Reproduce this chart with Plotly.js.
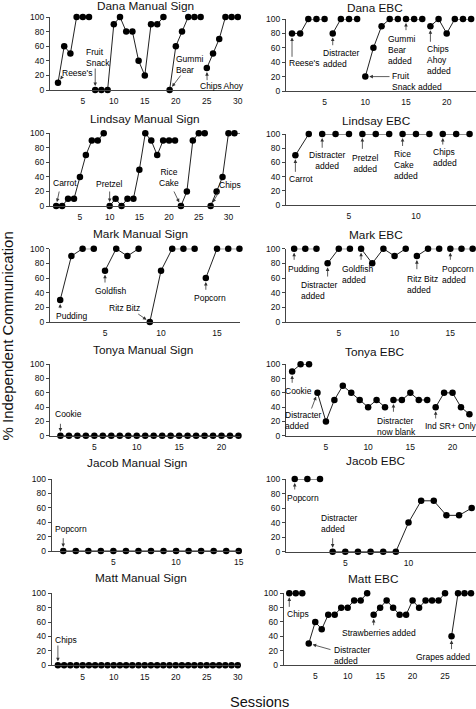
<!DOCTYPE html>
<html>
<head>
<meta charset="utf-8">
<script src="https://cdn.plot.ly/plotly-3.0.1.min.js"></script>
<style>html,body{margin:0;padding:0;background:#fff;}#chart{width:476px;height:709px;}</style>
</head>
<body>
<div id="chart"></div>
<script>
// ---------- DATA (values per phase; sessions numbered consecutively from 1) ----------
const panelTitles = ['Dana Manual Sign','Dana EBC','Lindsay Manual Sign','Lindsay EBC','Mark Manual Sign','Mark EBC',
  'Tonya Manual Sign','Tonya EBC','Jacob Manual Sign','Jacob EBC','Matt Manual Sign','Matt EBC'];

const danaManual = [[10,60,50,100,100,100],[0,0,0,90,100,80,80,40,20,90,90,100],[0,60,80,100,100,100],[30,50,70,100,100,100]];
const danaEBC = [[80,80,100,100,100],[80,100,100,100],[20,60,90,100,100],[100,100,100],[90,100,80,100,100,100]];
const lindsayManual = [[0,0,10,10,40,70,90,90,100],[0,10,0,10,10,50,100,90,70,90,90,90],[0,20,90,100,100],[0,20,40,100,100,100]];
const lindsayEBC = [[70,100],[100,100,100],[100,100,100],[100,100,100],[100,100,100]];
const markManual = [[30,90,100,100],[70,100,90,100],[0,70,100,100,100],[60,100,100,100]];
const markEBC = [[100,100,100],[80,100,100],[100,80,100,90,100],[90,100,100],[100,100,100]];
const tonyaManual = [[0,0,0,0,0,0,0,0,0,0,0,0,0,0,0,0,0,0,0,0,0,0]];
const tonyaEBC = [[90,100,100],[60,20,50,70,60,50,40,50,40],[50,50,60,50,50],[40,60,60,40,30]];
const jacobManual = [[0,0,0,0,0,0,0,0,0,0,0,0,0,0,0]];
const jacobEBC = [[100,100,100],[0,0,0,0,0,0,40,70,70,50,50,60]];
const mattManual = [[0,0,0,0,0,0,0,0,0,0,0,0,0,0,0,0,0,0,0,0,0,0,0,0,0,0,0,0,0,0]];
const mattEBC = [[100,100,100],[30,60,50,70,70,80,80,90,90,100],[70,80,90,80,70,70,90,80,90,90,90,100],[40,100,100,100]];

const panelData = [danaManual,danaEBC,lindsayManual,lindsayEBC,markManual,markEBC,
  tonyaManual,tonyaEBC,jacobManual,jacobEBC,mattManual,mattEBC];

const xTickLabels = [5,10,15,20,25,30];
const yTickLabels = [0,20,40,60,80,100];

// phase labels: [text, session, percent, align] and arrows: [headSession, headPct, tailSession, tailPct]
const phaseLabels = [
  [["Reese's",4.11,22.9],["Fruit<br>Snack",7.42,44.5],["Gummi<br>Bear",22.35,35.2],["Chips Ahoy",27.4,5.5]],
  [["Reese's",2.51,38.5],["Distracter<br>added",7.08,45.8],["Fruit<br>Snack added",16.33,12.5],["Gummi<br>Bear<br>added",14.56,56.9],["Chips<br>Ahoy<br>added",19.0,42.6]],
  [["Carrot",2.53,32],["Pretzel",9.92,30.3],["Rice<br>Cake",19.99,38.9,'center'],["Chips",30.3,28.9]],
  [["Carrot",1.44,36.2],["Distracter<br>added",3.38,62.7,'center'],["Pretzel<br>added",6.27,58.7,'center'],["Rice<br>Cake<br>added",9.25,56.8],["Chips<br>added",12.16,66.6]],
  [["Pudding",1.98,7.8],["Goldfish",5.49,42.7],["Ritz Bitz",6.71,19.1],["Popcorn",14.33,32.7]],
  [["Pudding",1.82,72.3],["Distracter<br>added",3.25,42.5],["Goldfish<br>added",6.69,64.6],["Ritz Bitz<br>added",12.49,51.4],["Popcorn<br>added",15.73,65]],
  [["Cookie",1.93,29.8]],
  [["Cookie",1.77,62.6],["Distracter<br>added",2.34,20.8],["Distracter<br>now blank",13.38,13.2],["Ind SR+ Only",19.76,13.6]],
  [["Popcorn",1.64,30.6]],
  [["Popcorn",1.67,73.3],["Distracter<br>added",4.52,38.5]],
  [["Chips",2.27,35.1]],
  [["Chips",2.29,70.7],["Distracter<br>added",10.74,12.8],["Strawberries added",14.82,44.2],["Grapes added",24.7,11.6]]
];
const phaseArrows = [
  [[1,10,1.75,19],[7,0,7,31.5],[19,0,20.95,21.9],[25,30,25.05,11.4]],
  [[1,80,1,45.4],[6,80,6,61.5],[10,20,13.16,20],[15,100,15,82.4],[18,90,18,66.3]],
  [[1,0,1.56,22],[10,0,10,22],[22,0,20.71,22],[27,0,28.58,22]],
  [[1,70,1,44.6],[3,100,3,78.5],[6,100,6,77],[9,100,9,81],[12,100,12,83]],
  [[1,30,1,16.8],[5,70,5,51.8],[9,0,7.83,12.3],[14,60,14,41.9]],
  [[1,100,1,82.8],[4,80,4,60],[7,100,7,82.8],[12,90,12,70],[15,100,15,82.8]],
  [[1,0,1,18.7]],
  [[1,90,1,72],[4,60,3.23,36],[13,50,13,31.4],[18,40,18,22]],
  [[1,0,1,19.9]],
  [[1,100,1,83.5],[4,0,4,20.6]],
  [[1,0,1,29.6]],
  [[1,100,1,79],[4,30,7.58,20.9],[14,70,14,53.4],[26,40,26,20]]
];

// ---------- LAYOUT GEOMETRY (pixels) ----------
const W = 476, H = 709;
const geom = [
  {x:[50,240],   y:[17,90],      r:[-0.29,30.35], t:[145.3,10.2]},
  {x:[286,476],  y:[19,91],      r:[0.26,23.6],   t:[375,11.8]},
  {x:[50,240],   y:[133.3,206],  r:[-0.04,31.94], t:[145.3,123.5]},
  {x:[286,476],  y:[134,205],    r:[0.3,14.48],   t:[376,125]},
  {x:[50,240],   y:[248.7,322],  r:[0.09,17.05],  t:[140,238.2]},
  {x:[286,476],  y:[248.7,322],  r:[0.27,17.3],   t:[375.5,239.2]},
  {x:[50,240],   y:[364,435.7],  r:[-0.23,22.18], t:[142.8,354]},
  {x:[286,476],  y:[364.3,435.7],r:[0.27,22.78],  t:[374.7,356]},
  {x:[51.7,240], y:[479,551],    r:[0.08,15.1],   t:[137.2,466.8]},
  {x:[286,476],  y:[479,551.7],  r:[0.31,15.34],  t:[375,465.5]},
  {x:[51.7,240], y:[593.3,665.3],r:[0,30.37],     t:[140.8,582]},
  {x:[283.7,476],y:[593.3,665],  r:[0.14,29.77],  t:[373.5,583.5]}
];
const FONT = 'Liberation Sans, Arial, Helvetica, sans-serif';
const px2x = p => p / W;
const px2y = p => 1 - p / H;

const traces = [];
const annotations = [];
const layout = {
  width: W, height: H,
  margin: {l:0, r:0, t:0, b:0},
  paper_bgcolor: '#ffffff', plot_bgcolor: '#ffffff',
  showlegend: false,
  font: {family: FONT, color: '#111', size: 8.5},
  annotations: annotations
};

panelData.forEach((phases, i) => {
  const n = i + 1;
  const xn = n === 1 ? 'x' : 'x' + n;
  const yn = n === 1 ? 'y' : 'y' + n;
  const g = geom[i];
  layout['xaxis' + (n === 1 ? '' : n)] = {
    domain: [px2x(g.x[0]), px2x(g.x[1])],
    range: g.r, anchor: yn,
    tickvals: xTickLabels.filter(v => v >= g.r[0] && v <= g.r[1]),
    ticks: '', showgrid: false, zeroline: false,
    showline: true, linecolor: '#444', linewidth: 1,
    tickfont: {size: 8.5, family: FONT, color: '#111'},
    ticklabelstandoff: 3,
    fixedrange: true
  };
  layout['yaxis' + (n === 1 ? '' : n)] = {
    domain: [px2y(g.y[1]), px2y(g.y[0])],
    range: [0, 100], anchor: xn,
    tickvals: yTickLabels,
    ticks: 'outside', ticklen: 3, tickwidth: 1, tickcolor: '#444',
    showgrid: false, zeroline: false,
    showline: true, linecolor: '#444', linewidth: 1,
    tickfont: {size: 8.5, family: FONT, color: '#111'},
    fixedrange: true
  };
  let s = 1;
  phases.forEach(vals => {
    const xs = vals.map((_, j) => s + j);
    s += vals.length;
    traces.push({
      type: 'scatter', mode: 'lines+markers',
      x: xs, y: vals, xaxis: xn, yaxis: yn,
      cliponaxis: false,
      line: {color: '#222', width: 1},
      marker: {color: '#000', size: 6.5},
      hoverinfo: 'skip'
    });
  });
  // panel title
  annotations.push({
    xref: 'paper', yref: 'paper',
    x: px2x(g.t[0]), y: px2y(g.t[1] - 4.1),
    xanchor: 'center', yanchor: 'middle',
    text: panelTitles[i], showarrow: false,
    font: {size: 11.8, family: FONT, color: '#111'}
  });
  phaseLabels[i].forEach(l => {
    annotations.push({
      xref: xn, yref: yn, x: l[1], y: l[2],
      xanchor: 'center', yanchor: 'middle',
      text: l[0], showarrow: false, align: l[3] || 'left',
      font: {size: 8.5, family: FONT, color: '#000'}
    });
  });
  phaseArrows[i].forEach(a => {
    annotations.push({
      xref: xn, yref: yn, x: a[0], y: a[1],
      axref: xn, ayref: yn, ax: a[2], ay: a[3],
      text: '', showarrow: true,
      arrowhead: 2, arrowsize: 0.9, arrowwidth: 0.8,
      arrowcolor: '#333', standoff: 4
    });
  });
});

annotations.push({
  xref: 'paper', yref: 'paper', x: px2x(7.5), y: px2y(336),
  xanchor: 'center', yanchor: 'middle', textangle: -90,
  text: '% Independent Communication', showarrow: false,
  font: {size: 15, family: FONT, color: '#111'}
});
annotations.push({
  xref: 'paper', yref: 'paper', x: px2x(259.7), y: px2y(702.2),
  xanchor: 'center', yanchor: 'middle',
  text: 'Sessions', showarrow: false,
  font: {size: 14.6, family: FONT, color: '#111'}
});

Plotly.newPlot('chart', traces, layout, {staticPlot: true, displayModeBar: false});
</script>
</body>
</html>
